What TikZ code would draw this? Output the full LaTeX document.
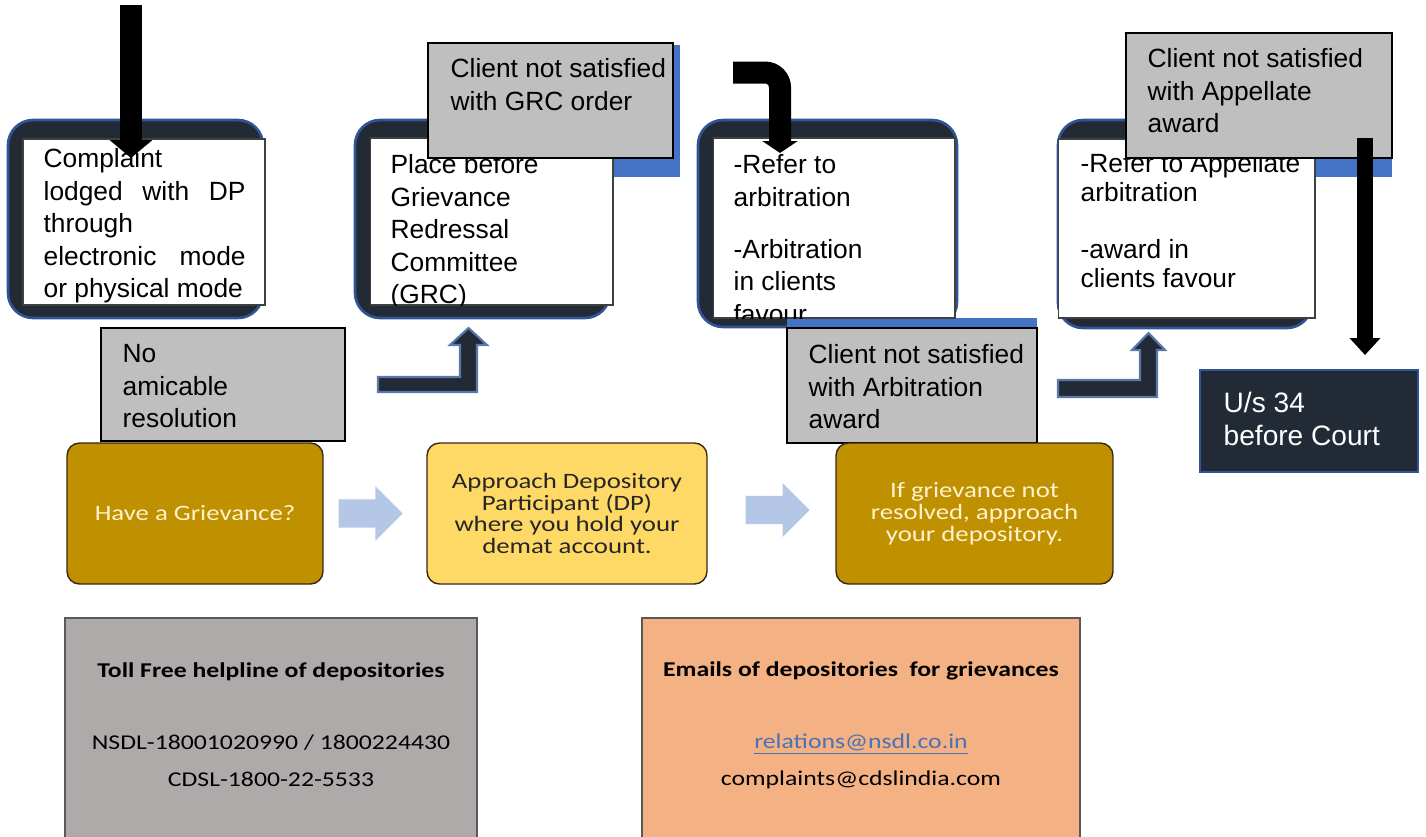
\documentclass[tikz,border=0pt]{standalone}
\usepackage{fontspec}
\usetikzlibrary{arrows.meta,shapes.arrows}
\setmainfont{Liberation Sans}
\newfontfamily\calfont[FakeStretch=1.22]{Carlito}
\definecolor{navy}{HTML}{222A35}
\definecolor{rim}{HTML}{2F5597}
\definecolor{greybox}{HTML}{BFBFBF}
\definecolor{barblue}{HTML}{4472C4}
\definecolor{gold}{HTML}{BF9000}
\definecolor{paleyel}{HTML}{FFD966}
\definecolor{cream}{HTML}{FFF2CC}
\definecolor{skyarrow}{HTML}{B4C7E7}
\definecolor{stone}{HTML}{AEAAAA}
\definecolor{peach}{HTML}{F4B183}
\definecolor{link}{HTML}{4A72B8}
\tikzset{every picture/.style={line width=0.75pt}}

\begin{document}
\begin{tikzpicture}[x=0.02cm,y=-0.02cm,
    stage/.style={draw=rim,line width=1.5pt,fill=navy,rounded corners=0.5cm,inner sep=0},
    sheet/.style={draw=black!75,line width=0.6pt,fill=white,inner sep=0},
    note/.style={draw=black,line width=1pt,fill=greybox,inner sep=0},
    band/.style={fill=barblue,inner sep=0},
    txt/.style={anchor=north west,inner sep=0,align=left,font=\fontsize{15}{18.5}\selectfont},
    tile/.style={rounded corners=0.25cm,draw=black!70!brown,line width=0.8pt,inner sep=0,align=center,
        minimum height=2.82cm,font=\calfont\fontsize{12.5}{12.4}\selectfont},
    info/.style={draw=black!65,line width=0.8pt,inner sep=0,minimum height=4.44cm},
    infotxt/.style={align=center,inner sep=0,font=\calfont\fontsize{12}{21}\selectfont},
    flow/.style={single arrow,fill=skyarrow,single arrow head extend=0.26cm,minimum height=1.28cm,
        inner sep=0,anchor=tail},
    uparrow/.style={fill=navy,draw=rim!80,line width=1.2pt,line join=miter}]
    \useasboundingbox (0,0) rectangle (1426,836);

    % top row
    \node[stage,minimum width=5.10cm,minimum height=3.96cm] (s1) at (135.5,219) {};
    \node[stage,minimum width=5.10cm,minimum height=3.96cm] (s2) at (482.5,219) {};
    \node[stage,minimum width=5.18cm,minimum height=4.14cm] (s3) at (827.5,223.5) {};
    \node[stage,minimum width=5.08cm,minimum height=4.16cm] (s4) at (1185,224) {};

    \node[band,minimum width=5.0cm,minimum height=2.64cm] (b2) at (555,111) {};
    \node[band,minimum width=5.32cm,minimum height=2.84cm] (b4) at (1259,106) {};
    \node[band,minimum width=5.0cm,minimum height=2.5cm] (b3) at (912,380.5) {};

    \node[sheet,minimum width=4.84cm,minimum height=3.32cm] (w1) at (144,222) {};
    \node[sheet,minimum width=4.86cm,minimum height=3.34cm] (w2) at (491.5,221.5) {};
    \node[sheet,minimum width=4.84cm,minimum height=3.60cm] (w3) at (834,228) {};
    \node[sheet,minimum width=5.14cm,minimum height=3.58cm] (w4) at (1186.5,228.5) {};

    \node[txt] (t1) at (43,148) {Complaint\\ \makebox[4.04cm][s]{lodged with DP}\\ through\\
        \makebox[4.04cm][s]{electronic mode}\\ or physical mode};
    \begin{scope}
        \clip (w2.north west) rectangle (w2.south east);
        \node[txt] (t2) at (390,154) {Place before\\ Grievance\\ Redressal\\ Committee\\ (GRC)};
    \end{scope}
    \begin{scope}
        \clip (w3.north west) rectangle (w3.south east);
        \node[txt] (t3) at (733,154) {-Refer to\\ arbitration\\[11pt] -Arbitration\\ in clients\\ favour};
    \end{scope}
    \node[txt,font=\fontsize{15}{16.5}\selectfont] (t4) at (1080,153) {-Refer to Appellate\\ arbitration\\[16pt]
        -award in\\ clients favour};

    % grey notes
    \node[note,minimum width=4.90cm,minimum height=2.30cm] (n2) at (550.5,100.5) {};
    \node[txt] (n2t) at (450,58) {Client not satisfied\\ with GRC order};
    \node[note,minimum width=5.32cm,minimum height=2.50cm] (n4) at (1259,95.5) {};
    \node[txt] (n4t) at (1147,48) {Client not satisfied\\ with Appellate\\ award};
    \node[note,minimum width=4.88cm,minimum height=2.26cm] (n1) at (223,384.5) {};
    \node[txt] (n1t) at (122,344) {No\\ amicable\\ resolution};
    \node[note,minimum width=5.0cm,minimum height=2.30cm] (n3) at (912,385.5) {};
    \node[txt] (n3t) at (808,344) {Client not satisfied\\ with Arbitration\\ award};

    \node[stage,sharp corners,minimum width=4.36cm,minimum height=2.04cm] (ct) at (1309,421) {};
    \node[txt,text=white,font=\fontsize{16}{19.3}\selectfont] (ctt) at (1223,391) {U/s 34\\ before Court};

    % black arrows
    \coordinate (a1s) at (131,5);
    \coordinate (a1e) at (131,158);
    \coordinate (a3s) at (733,72.5);
    \coordinate (a3e) at (780,153);
    \coordinate (a4s) at (1365,138);
    \coordinate (a4e) at (1365,355);
    \draw[line width=0.44cm,-{Triangle[width=0.84cm,length=0.36cm]}] (a1s) -- (a1e);
    \draw[line width=0.44cm,rounded corners=0.3cm,-{Triangle[width=0.70cm,length=0.24cm]}] (a3s) -| (a3e);
    \draw[line width=0.32cm,-{Triangle[width=0.60cm,length=0.34cm]}] (a4s) -- (a4e);

    \draw[uparrow] (378,377) -- (460,377) -- (460,345) -- (450,345) -- (468.5,328) -- (487,345)
        -- (477,345) -- (477,392) -- (378,392) -- cycle;
    \draw[uparrow] (1058,380) -- (1140,380) -- (1140,350) -- (1132,350) -- (1148.5,333) -- (1165,350)
        -- (1157,350) -- (1157,397) -- (1058,397) -- cycle;

    % middle row
    \node[tile,fill=gold,text=cream,minimum width=5.12cm] (m1) at (195,513.5) {Have a Grievance?};
    \node[tile,fill=paleyel,text=black!85,minimum width=5.60cm] (m2) at (567,513.5)
        {Approach Depository\\ Participant (DP)\\ where you hold your\\ demat account.};
    \node[tile,fill=gold,text=cream,minimum width=5.54cm] (m3) at (974.5,513.5)
        {If grievance not\\ resolved, approach\\ your depository.};
    \node[flow] (f1) at (338,513.5) {\rule{0pt}{0.54cm}};
    \node[flow] (f2) at (745,510) {\rule{0pt}{0.54cm}};

    % bottom row
    \node[info,fill=stone,minimum width=8.24cm] (h1) at (271,729) {};
    \node[infotxt] (h1t) at (271,725) {\textbf{Toll Free helpline of depositories}\\[20pt]
        NSDL-18001020990 / 1800224430\\ CDSL-1800-22-5533};
    \node[info,fill=peach,minimum width=8.76cm] (h2) at (861,729) {};
    \node[infotxt] (h2t) at (861,725) {\textbf{Emails of depositories\ \ for grievances}\\[20pt]
        \textcolor{link}{\underline{relations@nsdl.co.in}}\\ complaints@cdslindia.com};
\end{tikzpicture}
\end{document}
